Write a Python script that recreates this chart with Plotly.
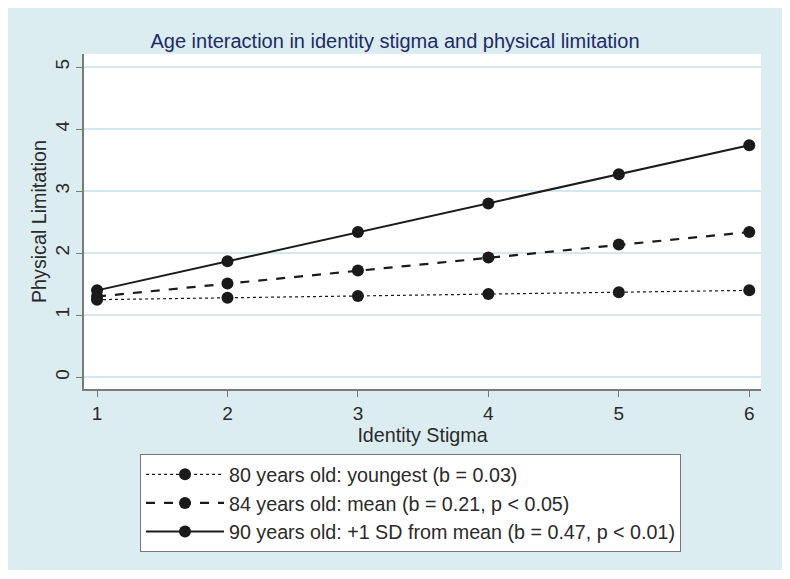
import plotly.graph_objects as go

stigma = [1, 2, 3, 4, 5, 6]
youngest = [1.25, 1.28, 1.31, 1.34, 1.37, 1.40]
mean_age = [1.30, 1.51, 1.72, 1.93, 2.14, 2.34]
plus_sd = [1.40, 1.87, 2.34, 2.80, 3.27, 3.74]
series_names = [
    "80 years old: youngest (b = 0.03)",
    "84 years old: mean (b = 0.21, p < 0.05)",
    "90 years old: +1 SD from mean (b = 0.47, p < 0.01)",
]
y_ticks = [0, 1, 2, 3, 4, 5]
x_ticks = [1, 2, 3, 4, 5, 6]

W, H = 774, 562
ML, MR, MT, MB = 76, 21, 46, 181
PW, PH = W - ML - MR, H - MT - MB

FONT = "Liberation Sans, Arial, sans-serif"
INK = "#1a1a1a"
PANEL = "#dcedf2"
GRID = "#d3e8ef"
TXT = "#2a2a2a"
FS = 19.7

fig = go.Figure()
styles = [("dot", 1.2), ("dash", 2.2), ("solid", 2.0)]
for ys, name, (dash, w) in zip([youngest, mean_age, plus_sd], series_names, styles):
    fig.add_trace(go.Scatter(
        x=stigma, y=ys, name=name, mode="lines+markers",
        line=dict(color=INK, dash=dash, width=w),
        marker=dict(color=INK, size=12, symbol="circle"),
    ))

fig.update_layout(
    width=W, height=H,
    margin=dict(l=ML, r=MR, t=MT, b=MB),
    paper_bgcolor=PANEL, plot_bgcolor="white",
    font=dict(family=FONT, size=FS, color=TXT),
    title=dict(text="Age interaction in identity stigma and physical limitation",
               x=0.5, xanchor="center", y=1 - 33 / H, yanchor="middle",
               font=dict(family=FONT, size=20, color="#1c2a66")),
    xaxis=dict(range=[0.9, 6.09], tickvals=x_ticks, showgrid=False, zeroline=False,
               showline=True, linecolor="#7a7a7a", linewidth=1.5,
               ticks="outside", ticklen=6, tickcolor="#7a7a7a",
               tickfont=dict(size=19, color=TXT),
               title=dict(text="Identity Stigma", standoff=2,
                          font=dict(size=FS, color=TXT))),
    yaxis=dict(range=[-0.19, 5.21], tickvals=y_ticks, showgrid=True, gridcolor=GRID,
               gridwidth=1.5, zeroline=False,
               showline=True, linecolor="#7a7a7a", linewidth=1.5,
               ticks="outside", ticklen=6, tickcolor="#7a7a7a", tickangle=-90,
               tickfont=dict(size=19, color=TXT),
               title=dict(text="Physical Limitation", standoff=0,
                          font=dict(size=FS, color=TXT))),
    legend=dict(x=(132 - ML) / PW, y=(H - MB - 446) / PH, xanchor="left", yanchor="top",
                bgcolor="white", bordercolor="#777777", borderwidth=1,
                itemwidth=78, font=dict(size=FS, color=TXT),
                tracegroupgap=0),
    showlegend=True,
)

fig.write_html("out.html")
